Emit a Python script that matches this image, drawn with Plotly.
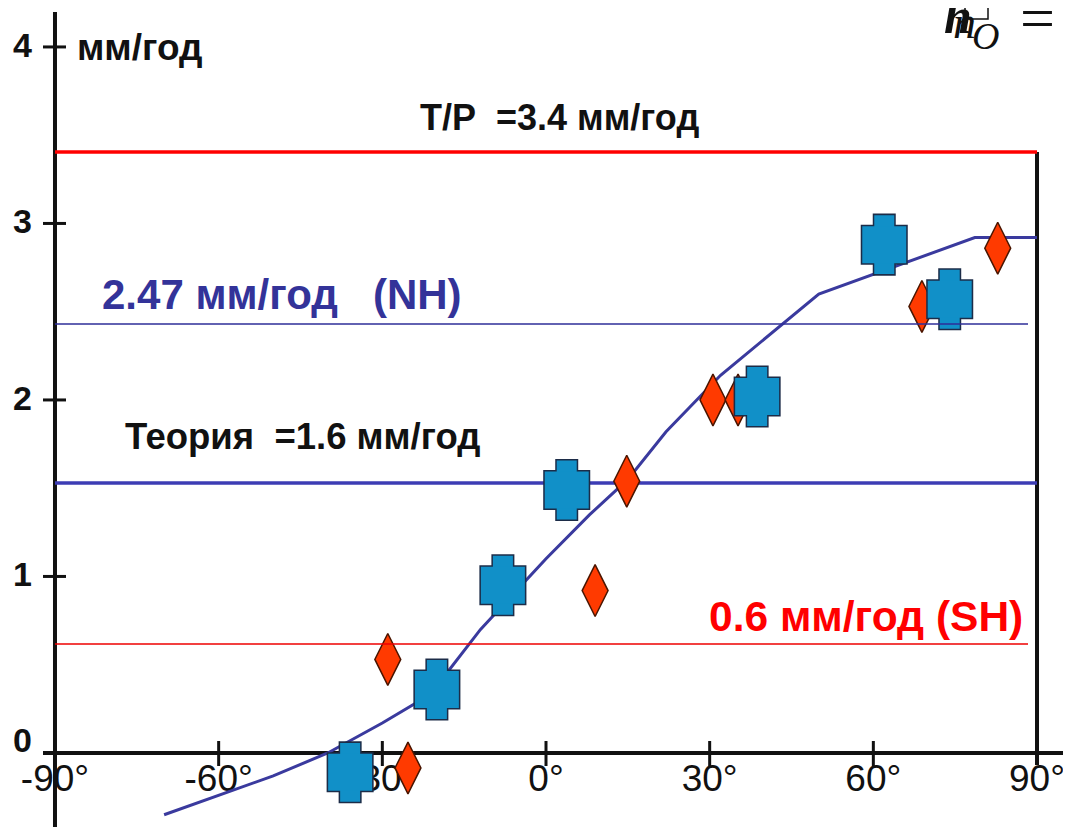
import plotly.graph_objects as go

# ---------------- data ----------------
lat_ticks = [-90, -60, -30, 0, 30, 60, 90]
lat_labels = ["-90°", "-60°", "-30°", "0°", "30°", "60°", "90°"]
rate_ticks = [0, 1, 2, 3, 4]
rate_labels = ["0", "1", "2", "3", "4"]

curve_lat = [-70, -60, -50, -40, -30, -24, -18, -12, -6, 0, 8, 15, 22, 32, 50, 78.6, 90]
curve_rate = [-0.35, -0.24, -0.13, 0.0, 0.17, 0.28, 0.46, 0.70, 0.90, 1.10, 1.35, 1.55, 1.82, 2.14, 2.60, 2.92, 2.92]

cross_lat = [-35.9, -20.0, -7.9, 3.8, 38.7, 62.0, 74.0]
cross_rate = [-0.11, 0.36, 0.95, 1.49, 2.02, 2.88, 2.57]

diamond_lat = [-29.0, -25.3, 9.0, 14.8, 30.6, 35.2, 68.9, 82.8]
diamond_rate = [0.53, -0.085, 0.92, 1.54, 2.0, 2.0, 2.53, 2.86]

tp_rate = 3.405       # T/P = 3.4 мм/год
theory_rate = 1.53    # Теория = 1.6 мм/год
nh_rate = 2.43        # 2.47 мм/год (NH)
sh_rate = 0.617       # 0.6 мм/год (SH)

# ---------------- geometry helpers (layout only) ----------------
# page body has an 8px margin; the figure covers page pixels 8..1071 x 8..827
OFF = 8
W, H = 1071 - OFF, 827 - OFF
PX_PER_DEG = 1071 / 196.31
PX_PER_UNIT = 176.5


def px_x(px):  # page pixel -> data x
    return -100.08 + px / PX_PER_DEG


def px_y(py):  # page pixel -> data y
    return 4.266 - py / PX_PER_UNIT


X_RANGE = [px_x(OFF), px_x(1071)]
Y_RANGE = [px_y(827), px_y(OFF)]

BLACK = "#111111"
CURVE = "#3a3a9e"
CROSS_FILL = "#1190c8"
CROSS_EDGE = "#1c2c48"
DIAM_FILL = "#ff3a00"
DIAM_EDGE = "#4a1500"

fig = go.Figure()

# model curve
fig.add_trace(go.Scatter(x=curve_lat, y=curve_rate, mode="lines",
                         line=dict(color=CURVE, width=3), hoverinfo="skip"))
# T/P line
fig.add_trace(go.Scatter(x=[lat_ticks[0], lat_ticks[-1]], y=[tp_rate, tp_rate], mode="lines",
                         line=dict(color="#ff0000", width=3.5), hoverinfo="skip"))
# theory line
fig.add_trace(go.Scatter(x=[lat_ticks[0], lat_ticks[-1]], y=[theory_rate, theory_rate], mode="lines",
                         line=dict(color="#3c3cb4", width=3.5), hoverinfo="skip"))

# diamonds
fig.add_trace(go.Scatter(x=diamond_lat, y=diamond_rate, mode="markers",
                         marker=dict(symbol="diamond-tall", size=37, color=DIAM_FILL,
                                     line=dict(color=DIAM_EDGE, width=1.5)),
                         hoverinfo="skip"))

# crosses: union of a vertical and a horizontal bar (outline layers, then fill layers)
for sym, size, col, lw in [("line-ns", 44.3, CROSS_EDGE, 23), ("line-ew", 33.6, CROSS_EDGE, 40),
                           ("line-ns", 42.1, CROSS_FILL, 20), ("line-ew", 31.4, CROSS_FILL, 37)]:
    fig.add_trace(go.Scatter(x=cross_lat, y=cross_rate, mode="markers",
                             marker=dict(symbol=sym, size=size, color=col,
                                         line=dict(color=col, width=lw)),
                             hoverinfo="skip"))

# thin NH / SH lines (drawn over markers)
x_end = px_x(1028)
fig.add_trace(go.Scatter(x=[lat_ticks[0], x_end], y=[nh_rate, nh_rate], mode="lines",
                         line=dict(color="#2e2e99", width=1.6), hoverinfo="skip"))
fig.add_trace(go.Scatter(x=[lat_ticks[0], x_end], y=[sh_rate, sh_rate], mode="lines",
                         line=dict(color="#ee0000", width=1.6), hoverinfo="skip"))

# ---------------- axes drawn as shapes ----------------
shapes = []
shapes.append(dict(type="line", x0=lat_ticks[0], x1=lat_ticks[0], y0=Y_RANGE[0], y1=px_y(12),
                   line=dict(color=BLACK, width=4), layer="below"))
shapes.append(dict(type="line", x0=px_x(43), x1=X_RANGE[1], y0=0, y1=0,
                   line=dict(color=BLACK, width=4), layer="below"))
shapes.append(dict(type="line", x0=lat_ticks[-1], x1=lat_ticks[-1], y0=px_y(765), y1=tp_rate,
                   line=dict(color=BLACK, width=4), layer="below"))
for v in rate_ticks[1:]:
    shapes.append(dict(type="line", x0=px_x(43), x1=px_x(66), y0=v, y1=v,
                       line=dict(color=BLACK, width=3), layer="below"))
for v in lat_ticks[1:-1]:
    shapes.append(dict(type="line", x0=v, x1=v, y0=px_y(741), y1=px_y(766),
                       line=dict(color=BLACK, width=3), layer="below"))

# ---------------- text ----------------
SANS = "Liberation Sans, Arial, sans-serif"
NARROW = "Liberation Sans Narrow, Arial Narrow, Liberation Sans, sans-serif"
SERIF = "Liberation Serif, Times New Roman, serif"
ann = []
for v, t in zip(rate_ticks, rate_labels):
    ann.append(dict(x=px_x(22), y=v, text=t, showarrow=False, xanchor="center", yanchor="middle",
                    yshift=13 if v == 0 else 2,
                    font=dict(family=SANS, size=34, color=BLACK, weight="bold")))

ann.append(dict(x=px_x(75), y=px_y(47), text="мм/год", showarrow=False, xanchor="left", yanchor="middle",
                font=dict(family=SANS, size=37, color=BLACK, weight="bold")))
ann.append(dict(x=px_x(418), y=px_y(117), text="T/P\u00a0\u00a0=3.4 мм/год", showarrow=False,
                xanchor="left", yanchor="middle",
                font=dict(family=SANS, size=36, color=BLACK, weight="bold")))
ann.append(dict(x=px_x(100), y=px_y(294), text="2.47 мм/год\u00a0\u00a0\u00a0(NH)", showarrow=False,
                xanchor="left", yanchor="middle",
                font=dict(family=SANS, size=42, color="#333399", weight="bold")))
ann.append(dict(x=px_x(123), y=px_y(436), text="Теория\u00a0\u00a0=1.6 мм/год", showarrow=False,
                xanchor="left", yanchor="middle",
                font=dict(family=SANS, size=36.5, color=BLACK, weight="bold")))
ann.append(dict(x=px_x(707), y=px_y(616), text="0.6 мм/год (SH)", showarrow=False,
                xanchor="left", yanchor="middle",
                font=dict(family=SANS, size=42.5, color="#ff0000", weight="bold")))

# top-right formula fragment
ann.append(dict(x=px_x(958), y=px_y(16), text="<i>h</i>", showarrow=False,
                font=dict(family=SERIF, size=50, color=BLACK, weight="bold")))
ann.append(dict(x=px_x(964), y=px_y(22), text="<i>n</i>", showarrow=False,
                font=dict(family=SERIF, size=46, color=BLACK)))
ann.append(dict(x=px_x(985), y=px_y(36), text="<i>O</i>", showarrow=False,
                font=dict(family=SERIF, size=38, color=BLACK)))
ann.append(dict(x=px_x(1037), y=px_y(18), text="=", showarrow=False,
                font=dict(family=SERIF, size=62, color=BLACK)))
ann.append(dict(x=px_x(1068), y=px_y(18), text="[", showarrow=False, xanchor="center",
                font=dict(family=SERIF, size=50, color=BLACK)))
shapes.append(dict(type="rect", x0=px_x(965), x1=px_x(988), y0=px_y(19), y1=px_y(-2),
                   line=dict(color=BLACK, width=1.5)))

fig.update_layout(
    width=W, height=H,
    margin=dict(l=0, r=0, t=0, b=0),
    paper_bgcolor="white", plot_bgcolor="white",
    showlegend=False,
    shapes=shapes, annotations=ann,
    xaxis=dict(range=X_RANGE, domain=[0, 1], anchor="free", position=1 - (753 - OFF) / H,
               tickmode="array", tickvals=lat_ticks, ticktext=lat_labels,
               ticks="", showgrid=False, zeroline=False, showline=False,
               tickfont=dict(family=NARROW, size=37, color=BLACK),
               ticklabelstandoff=0, layer="below traces", fixedrange=True),
    yaxis=dict(range=Y_RANGE, domain=[0, 1], showticklabels=False, ticks="",
               showgrid=False, zeroline=False, showline=False, fixedrange=True),
)

fig.write_html("out.html")
